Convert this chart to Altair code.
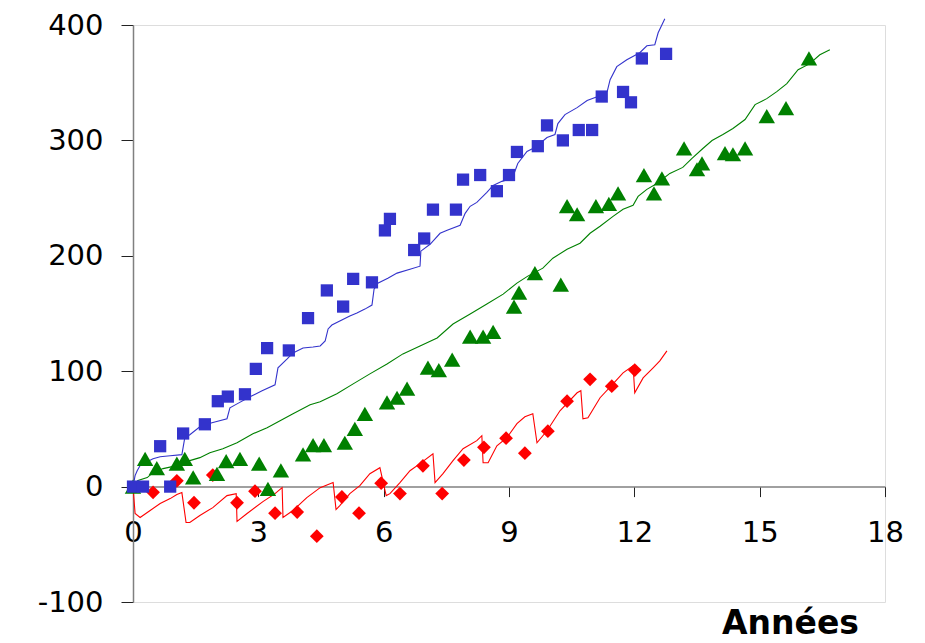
import altair as alt
import pandas as pd

# ---- observed points (markers) ----
blue_obs_x = [0, 0.24, 0.89, 0.65, 1.2, 1.72, 2.03, 2.27, 2.68, 2.94, 3.21, 3.73, 4.19, 4.64, 5.03, 5.27,
              5.72, 6.03, 6.15, 6.73, 6.97, 7.18, 7.73, 7.9, 8.31, 8.71, 9.0, 9.19, 9.69, 9.91, 10.29,
              10.67, 10.99, 11.22, 11.73, 11.92, 12.18, 12.76]
blue_obs_y = [0, 0, 0, 35, 46, 54, 74, 78, 80, 102, 120, 118, 146, 170, 156, 180,
              177, 222, 232, 205, 215, 240, 240, 266, 270, 256, 270, 290, 295, 313, 300,
              309, 309, 338, 342, 333, 371, 375]

green_obs_x = [0, 0.29, 0.57, 1.05, 1.24, 1.44, 2.01, 2.23, 2.56, 3.02, 3.23, 3.54, 4.07, 4.31, 4.57,
               5.07, 5.31, 5.55, 6.08, 6.32, 6.56, 7.06, 7.32, 7.64, 8.07, 8.38, 8.62, 9.12, 9.24,
               9.62, 10.24, 10.39, 10.63, 11.08, 11.39, 11.61, 12.23, 12.47, 12.66, 13.19, 13.5,
               13.62, 14.17, 14.36, 14.65, 15.17, 15.63, 16.18]
green_obs_y = [0, 24, 16, 20, 24, 8, 11, 22, 24, 20, -2, 14, 28, 36, 36,
               38, 50, 63, 73, 77, 85, 103, 101, 110, 130, 130, 134, 156, 168,
               185, 175, 243, 236, 243, 245, 254, 270, 254, 267, 293, 275,
               280, 289, 288, 293, 321, 328, 371]

red_obs_x = [0.48, 1.05, 1.46, 1.91, 2.49, 2.92, 3.4, 3.93, 4.4, 5.0, 5.41, 5.94, 6.39, 6.94, 7.4,
             7.92, 8.4, 8.93, 9.38, 9.93, 10.39, 10.94, 11.46, 12.01]
red_obs_y = [-5, 5, -14, 10, -14, -4, -23, -22, -43, -9, -23, 3, -6, 18, -6,
             23, 34, 42, 29, 48, 74, 93, 87, 101]

# ---- fitted / simulated step curves ----
blue_line_x = [0, 0.05, 0.1, 0.17, 0.29, 0.48, 0.65, 0.89, 1.17, 1.24, 1.36, 1.6, 1.89, 2.25, 2.32,
               2.49, 2.8, 3.09, 3.4, 3.47, 3.69, 3.83, 4.07, 4.31, 4.48, 4.6, 4.67, 4.76, 4.95,
               5.19, 5.36, 5.55, 5.72, 5.77, 5.86, 6.1, 6.32, 6.63, 6.87, 6.89, 7.11, 7.35, 7.52,
               7.83, 7.95, 8.07, 8.23, 8.47, 8.62, 8.83, 9.07, 9.14, 9.21, 9.43, 9.57, 9.74, 9.91,
               10.1, 10.17, 10.34, 10.63, 10.87, 11.11, 11.35, 11.42, 11.58, 11.82, 12.13, 12.3,
               12.49, 12.57, 12.73]
blue_line_y = [0, 9.5, 13.8, 18.2, 20.7, 24.2, 25.9, 26.8, 27.7, 42.4, 44.9, 51.9, 55.3, 58.8, 68.3,
               71.7, 77.8, 83.0, 88.2, 102.9, 110.6, 115.8, 120.1, 121.0, 121.9, 126.2, 136.6, 140.0, 143.5,
               147.8, 150.4, 153.8, 157.3, 171.1, 176.3, 180.6, 185.0, 188.4, 191.0, 204.0, 210.0, 219.5, 222.1,
               226.4, 236.8, 242.9, 246.3, 255.0, 261.0, 264.5, 267.1, 273.1, 280.0, 290.4, 293.0, 297.3, 302.5,
               305.1, 314.6, 322.4, 328.4, 334.5, 337.9, 342.3, 352.6, 363.9, 369.9, 376.0, 382.0,
               382.9, 393.3, 405.4]

green_line_x = [0, 0.05, 0.12, 0.34, 0.48, 0.72, 1.05, 1.36, 1.6, 1.84, 2.15, 2.49, 2.87, 3.21, 3.52,
                3.83, 4.24, 4.48, 4.88, 5.27, 5.67, 6.08, 6.46, 6.87, 7.28, 7.66, 8.07, 8.47, 8.86,
                9.19, 9.45, 9.81, 10.05, 10.39, 10.7, 10.94, 11.18, 11.49, 11.73, 11.97, 12.09, 12.3,
                12.54, 12.85, 13.16, 13.38, 13.64, 13.86, 14.12, 14.36, 14.65, 14.89, 15.17, 15.41,
                15.65, 15.92, 16.2, 16.44, 16.68]
green_line_y = [0, 2.6, 5.2, 7.8, 12.1, 15.6, 18.2, 22.5, 25.1, 29.4, 32.8, 38.0, 45.8, 51.0, 57.0,
                63.1, 70.9, 73.5, 80.4, 89.0, 97.7, 106.3, 115.0, 121.9, 128.8, 140.9, 149.5, 158.2, 166.8,
                176.3, 182.4, 189.3, 197.9, 205.7, 210.9, 219.5, 225.6, 234.2, 240.3, 243.7, 251.5, 257.6,
                262.7, 271.4, 276.6, 284.4, 293.0, 299.9, 305.1, 310.3, 318.1, 331.0, 336.2, 342.3,
                349.2, 361.3, 366.5, 374.2, 378.6]

red_line_x = [0, 0.05, 0.17, 0.41, 0.65, 0.89, 1.05, 1.17, 1.27, 1.36, 1.6, 1.91, 2.25, 2.47, 2.49,
              2.73, 3.11, 3.4, 3.57, 3.59, 3.83, 4.16, 4.48, 4.79, 4.86, 4.95, 5.19, 5.43, 5.67,
              5.91, 6.06, 6.15, 6.39, 6.63, 6.87, 7.18, 7.23, 7.42, 7.66, 7.9, 8.23, 8.35, 8.38,
              8.5, 8.71, 8.95, 9.19, 9.38, 9.57, 9.67, 9.91, 10.22, 10.63, 10.72, 10.77, 10.89,
              11.18, 11.49, 11.73, 11.97, 12.01, 12.21, 12.45, 12.61, 12.78]
red_line_y = [0, -23.3, -26.8, -20.7, -14.7, -10.4, -6.9, -5.2, -31.1, -31.1, -25.1, -18.2, -7.8, -6.1, -30.2,
              -23.3, -13.0, -6.1, -0.9, -26.8, -20.7, -9.5, -0.9, 3.5, -19.9, -16.4, -6.1, 0.9, 11.2,
              16.4, -7.8, -6.1, 3.5, 13.8, 19.9, 28.5, 3.5, 11.2, 22.5, 32.8, 39.8, 44.1, 20.7,
              20.7, 35.4, 42.4, 54.5, 60.5, 63.1, 38.0, 48.4, 65.7, 81.3, 83.1, 58.8, 59.7,
              77.0, 89.1, 98.6, 104.7, 81.3, 94.2, 102.9, 108.9, 117.6]

x_ticks = [0, 3, 6, 9, 12, 15, 18]
y_ticks = [-100, 0, 100, 200, 300, 400]
x_title = "Années"

BLUE = "#3333CC"
GREEN = "#008000"
RED = "#FF0000"

W, H = 752, 577
PAD_TOP = 17
Y_MIN, Y_MAX = -100, 400
FONT = "DejaVu Sans"
AXIS_Y_PAGE = 8 + PAD_TOP + H * (Y_MAX - 0) / (Y_MAX - Y_MIN)


def line_df(xs, ys):
    return pd.DataFrame({"x": xs, "y": ys, "i": list(range(len(xs)))})


def pt_df(xs, ys):
    return pd.DataFrame({"x": xs, "y": ys})


x_axis = alt.Axis(
    values=x_ticks, labelExpr="'' + datum.value", offset=-H * (0 - Y_MIN) / (Y_MAX - Y_MIN),
    domainColor="#808080", domainWidth=1.5, tickColor="#222222", tickSize=10, tickWidth=1,
    labelFont=FONT, labelFontSize=29, labelColor="black", labelPadding=22,
    labelFlush=False, labelOverlap=False, grid=False,
    title=x_title, titleFont=FONT, titleFontSize=33, titleFontWeight="bold", titleColor="black",
    titleX=657, titleY=633 - AXIS_Y_PAGE, titleAlign="center", titleBaseline="alphabetic",
)
y_axis = alt.Axis(
    values=y_ticks, labelExpr="'' + datum.value",
    domainColor="#808080", domainWidth=1.5, tickColor="#222222", tickSize=12, tickWidth=1,
    labelFont=FONT, labelFontSize=29, labelColor="black", labelPadding=18,
    labelFlush=False, labelOverlap=False, grid=False, title=None,
)

x_enc = alt.X("x:Q", scale=alt.Scale(domain=[0, 18], nice=False, zero=False), axis=x_axis)
y_enc = alt.Y("y:Q", scale=alt.Scale(domain=[Y_MIN, Y_MAX], nice=False, zero=False), axis=y_axis)


def curve(xs, ys, color):
    return alt.Chart(line_df(xs, ys)).mark_line(color=color, strokeWidth=1.1).encode(
        x=x_enc, y=y_enc, order="i:Q")


def points(xs, ys, color, shape, size):
    return alt.Chart(pt_df(xs, ys)).mark_point(
        shape=shape, filled=True, color=color, size=size, opacity=1, strokeWidth=0
    ).encode(x=x_enc, y=y_enc)


chart = alt.layer(
    curve(red_line_x, red_line_y, RED),
    curve(green_line_x, green_line_y, GREEN),
    curve(blue_line_x, blue_line_y, BLUE),
    points(red_obs_x, red_obs_y, RED, "diamond", 190),
    points(green_obs_x, green_obs_y, GREEN, "triangle-up", 270),
    points(blue_obs_x, blue_obs_y, BLUE, "square", 150),
).properties(
    width=W, height=H,
    autosize=alt.AutoSizeParams(type="none"),
    padding={"left": 125, "top": PAD_TOP, "right": 30, "bottom": 40},
).configure_view(stroke=None).configure(background="white")

chart.save("out.html", embed_options={"renderer": "svg", "actions": False})
